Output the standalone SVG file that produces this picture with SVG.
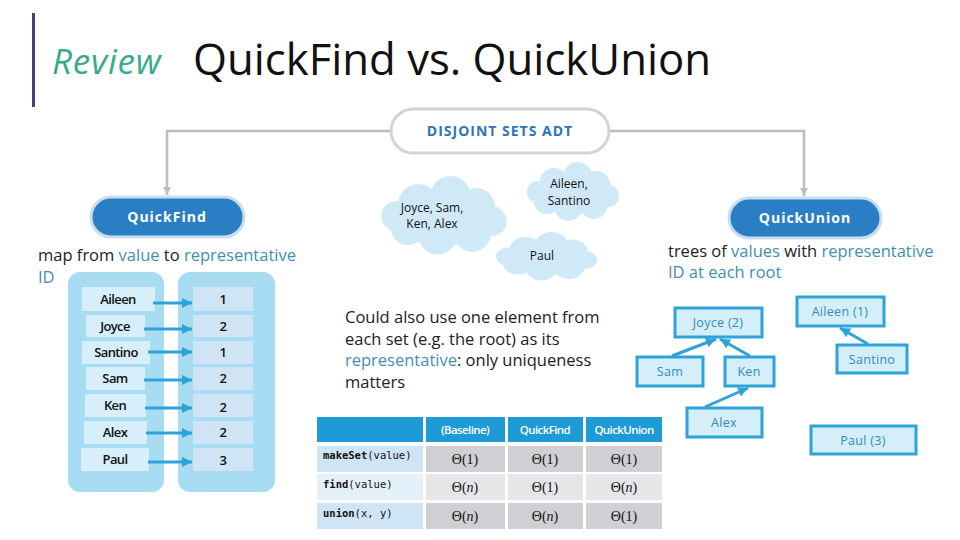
<svg xmlns="http://www.w3.org/2000/svg" xmlns:xlink="http://www.w3.org/1999/xlink" width="960" height="540" viewBox="0 0 960 540">
<style>
.sans{font-family:"Open Sans","Noto Sans","DejaVu Sans",sans-serif}
.body{font-family:"Open Sans","Noto Sans",sans-serif;font-size:16.5px;fill:#222}
.teal{fill:#3f8fae}
.pillTxt{font-family:"Open Sans","Noto Sans",sans-serif;font-weight:700;font-size:14px;letter-spacing:1px;text-anchor:middle}
.cloudTxt{font-family:"Open Sans","Noto Sans",sans-serif;font-size:12px;fill:#111;text-anchor:middle}
.col{fill:#a8dcf2}
.lcell{fill:#d6effa}
.rcell{fill:#cfe4f4}
.cellTxt{font-family:"Open Sans","Noto Sans",sans-serif;font-weight:600;font-size:13px;fill:#111;text-anchor:middle;letter-spacing:-0.6px}
.tarrow{stroke:#2ea3d9;stroke-width:3;fill:none}
.gline{stroke:#bdbdbd;stroke-width:2.5;fill:none}
.hdr{fill:#1e9ad6}
.hdrTxt{font-family:"Open Sans","Noto Sans",sans-serif;font-weight:600;font-size:11.5px;fill:#fff;text-anchor:middle;letter-spacing:-0.6px}
.mono{font-family:"DejaVu Sans Mono","Liberation Mono",monospace;font-size:10.5px;fill:#111}
.theta{font-family:"Liberation Serif","DejaVu Serif",serif;font-size:14px;fill:#111;text-anchor:middle}
.tnode{fill:#d4eefa;stroke:#2ea3d9;stroke-width:3}
.tnodeTxt{font-family:"Open Sans","Noto Sans",sans-serif;font-size:12.5px;fill:#2e8fba;text-anchor:middle;letter-spacing:0.3px}
.cloud{fill:#cfe9f7}
</style>
<defs>
<marker id="garrow" markerUnits="userSpaceOnUse" markerWidth="10" markerHeight="10" refX="8" refY="5" orient="auto">
<path d="M0,1 L8,5 L0,9 z" fill="#bdbdbd"/>
</marker>
<marker id="barrow" markerUnits="userSpaceOnUse" markerWidth="12" markerHeight="12" refX="10" refY="6" orient="auto">
<path d="M0,1 L10,6 L0,11 z" fill="#2ea3d9"/>
</marker>
<g id="cloudShape">
<ellipse cx="50" cy="32" rx="42" ry="20"/>
<circle cx="30" cy="22" r="16"/>
<circle cx="55" cy="16" r="16"/>
<circle cx="75" cy="24" r="15"/>
<circle cx="22" cy="38" r="14"/>
<circle cx="45" cy="44" r="15"/>
<circle cx="72" cy="42" r="15"/>
<circle cx="88" cy="34" r="11"/>
<circle cx="12" cy="30" r="11"/>
</g>
</defs>

<rect width="960" height="540" fill="#fff"/>

<g id="title">
<rect x="32" y="13" width="3" height="94" fill="#4b3b73"/>
<text x="52" y="74" class="sans" font-size="35" font-style="italic" fill="#3aaa8c" letter-spacing="0.8">Review</text>
<text x="193" y="75" class="sans" font-size="43.7" fill="#111">QuickFind vs. QuickUnion</text>
</g>

<g id="adt">
<rect x="391" y="109" width="218" height="44" rx="22" fill="#fff" stroke="#d3d3d3" stroke-width="3"/>
<text x="500" y="136" class="pillTxt" fill="#2e75b6">DISJOINT SETS ADT</text>
</g>

<g id="quickfind">
<rect x="91" y="197" width="153" height="40" rx="20" fill="#2a7fc4" stroke="#c9ddef" stroke-width="3"/>
<text x="167" y="222" class="pillTxt" fill="#fff" font-size="14.5">QuickFind</text>
</g>

<g id="quickunion">
<rect x="729" y="198" width="152" height="40" rx="20" fill="#2a7fc4" stroke="#c9ddef" stroke-width="3"/>
<text x="805" y="223" class="pillTxt" fill="#fff" font-size="14.5">QuickUnion</text>
</g>

<g id="qf-desc">
<text x="38" y="261" class="body">map from <tspan class="teal">value</tspan> to <tspan class="teal">representative</tspan></text>
<text x="38" y="283" class="body teal">ID</text>
</g>

<g id="qf-map">
<rect class="col" x="68" y="272" width="96" height="220" rx="12"/>
<rect class="col" x="178" y="272" width="97" height="220" rx="12"/>
<rect class="lcell" x="82" y="287" width="73" height="24"/>
<rect class="lcell" x="86" y="315" width="59" height="22"/>
<rect class="lcell" x="82" y="341" width="68" height="23"/>
<rect class="lcell" x="86" y="367" width="59" height="23"/>
<rect class="lcell" x="85" y="394" width="61" height="23"/>
<rect class="lcell" x="84" y="421" width="63" height="23"/>
<rect class="lcell" x="81" y="448" width="68" height="23"/>
<rect class="rcell" x="193" y="287" width="60" height="24"/>
<rect class="rcell" x="193" y="315" width="60" height="22"/>
<rect class="rcell" x="193" y="341" width="60" height="23"/>
<rect class="rcell" x="193" y="367" width="60" height="23"/>
<rect class="rcell" x="193" y="394" width="60" height="23"/>
<rect class="rcell" x="193" y="421" width="60" height="23"/>
<rect class="rcell" x="193" y="448" width="60" height="23"/>
<text class="cellTxt" x="118" y="304">Aileen</text>
<text class="cellTxt" x="115" y="331">Joyce</text>
<text class="cellTxt" x="116" y="357">Santino</text>
<text class="cellTxt" x="115" y="383">Sam</text>
<text class="cellTxt" x="115" y="410">Ken</text>
<text class="cellTxt" x="115" y="437">Alex</text>
<text class="cellTxt" x="115" y="464">Paul</text>
<text class="cellTxt" x="223" y="304">1</text>
<text class="cellTxt" x="223" y="331">2</text>
<text class="cellTxt" x="223" y="357">1</text>
<text class="cellTxt" x="223" y="383">2</text>
<text class="cellTxt" x="223" y="412">2</text>
<text class="cellTxt" x="223" y="437">2</text>
<text class="cellTxt" x="223" y="465">3</text>
</g>

<g id="cloud-joyce">
<use xlink:href="#cloudShape" class="cloud" transform="translate(380,176) scale(1.28,1.33)"/>
<text class="cloudTxt" x="432" y="212">Joyce, Sam,</text>
<text class="cloudTxt" x="432" y="228">Ken, Alex</text>
</g>
<g id="cloud-aileen">
<use xlink:href="#cloudShape" class="cloud" transform="translate(526,162) scale(0.94,1.0)"/>
<text class="cloudTxt" x="569" y="188">Aileen,</text>
<text class="cloudTxt" x="569" y="205">Santino</text>
</g>
<g id="cloud-paul">
<use xlink:href="#cloudShape" class="cloud" transform="translate(495,232) scale(1.03,0.82)"/>
<text class="cloudTxt" x="542" y="260">Paul</text>
</g>

<g id="note">
<text x="345" y="323" class="body">Could also use one element from</text>
<text x="345" y="345" class="body">each set (e.g. the root) as its</text>
<text x="345" y="366" class="body"><tspan class="teal">representative</tspan>: only uniqueness</text>
<text x="345" y="388" class="body">matters</text>
</g>

<g id="cmp-table">
<rect class="hdr" x="317" y="417" width="106" height="25"/>
<rect class="hdr" x="426" y="417" width="79" height="25"/>
<rect class="hdr" x="508" y="417" width="75" height="25"/>
<rect class="hdr" x="586" y="417" width="76" height="25"/>
<text class="hdrTxt" x="465" y="434">(Baseline)</text>
<text class="hdrTxt" x="545" y="434">QuickFind</text>
<text class="hdrTxt" x="624" y="434">QuickUnion</text>
<rect x="317" y="446" width="106" height="26" fill="#cfe5f5"/>
<rect x="426" y="446" width="79" height="26" fill="#d0d0d4"/>
<rect x="508" y="446" width="75" height="26" fill="#d0d0d4"/>
<rect x="586" y="446" width="76" height="26" fill="#d0d0d4"/>
<rect x="317" y="474" width="106" height="26" fill="#e5f1fa"/>
<rect x="426" y="474" width="79" height="26" fill="#e6e6e9"/>
<rect x="508" y="474" width="75" height="26" fill="#e6e6e9"/>
<rect x="586" y="474" width="76" height="26" fill="#e6e6e9"/>
<rect x="317" y="503" width="106" height="26" fill="#cfe5f5"/>
<rect x="426" y="503" width="79" height="26" fill="#d0d0d4"/>
<rect x="508" y="503" width="75" height="26" fill="#d0d0d4"/>
<rect x="586" y="503" width="76" height="26" fill="#d0d0d4"/>
<text class="mono" x="323" y="459"><tspan font-weight="bold">makeSet</tspan>(value)</text>
<text class="mono" x="323" y="488"><tspan font-weight="bold">find</tspan>(value)</text>
<text class="mono" x="323" y="517"><tspan font-weight="bold">union</tspan>(x, y)</text>
<text class="theta" x="465" y="464">Θ(1)</text>
<text class="theta" x="545" y="464">Θ(1)</text>
<text class="theta" x="624" y="464">Θ(1)</text>
<text class="theta" x="465" y="492">Θ(<tspan font-style="italic">n</tspan>)</text>
<text class="theta" x="545" y="492">Θ(1)</text>
<text class="theta" x="624" y="492">Θ(<tspan font-style="italic">n</tspan>)</text>
<text class="theta" x="465" y="521">Θ(<tspan font-style="italic">n</tspan>)</text>
<text class="theta" x="545" y="521">Θ(<tspan font-style="italic">n</tspan>)</text>
<text class="theta" x="624" y="521">Θ(1)</text>
</g>

<g id="qu-desc">
<text x="668" y="257" class="body">trees of <tspan class="teal">values</tspan> with <tspan class="teal">representative</tspan></text>
<text x="668" y="278" class="body teal">ID at each root</text>
</g>

<g id="node-joyce"><rect class="tnode" x="675" y="308" width="87" height="29"/><text class="tnodeTxt" x="718" y="327">Joyce (2)</text></g>
<g id="node-sam"><rect class="tnode" x="637" y="357" width="66" height="29"/><text class="tnodeTxt" x="670" y="376">Sam</text></g>
<g id="node-ken"><rect class="tnode" x="725" y="357" width="49" height="29"/><text class="tnodeTxt" x="749" y="376">Ken</text></g>
<g id="node-alex"><rect class="tnode" x="687" y="408" width="75" height="29"/><text class="tnodeTxt" x="724" y="427">Alex</text></g>
<g id="node-aileen"><rect class="tnode" x="797" y="297" width="87" height="29"/><text class="tnodeTxt" x="840" y="316">Aileen (1)</text></g>
<g id="node-santino"><rect class="tnode" x="837" y="345" width="70" height="28"/><text class="tnodeTxt" x="872" y="364">Santino</text></g>
<g id="node-paul"><rect class="tnode" x="811" y="426" width="105" height="28"/><text class="tnodeTxt" x="863" y="445">Paul (3)</text></g>

<g id="connectors">
<polyline class="gline" points="390,131 167,131 167,195" marker-end="url(#garrow)"/>
<polyline class="gline" points="610,131 804,131 804,196" marker-end="url(#garrow)"/>
<line class="tarrow" x1="153" y1="303" x2="192" y2="303" marker-end="url(#barrow)"/>
<line class="tarrow" x1="144" y1="329" x2="192" y2="329" marker-end="url(#barrow)"/>
<line class="tarrow" x1="148" y1="352" x2="192" y2="352" marker-end="url(#barrow)"/>
<line class="tarrow" x1="144" y1="380" x2="192" y2="380" marker-end="url(#barrow)"/>
<line class="tarrow" x1="145" y1="408" x2="192" y2="408" marker-end="url(#barrow)"/>
<line class="tarrow" x1="146" y1="433" x2="192" y2="433" marker-end="url(#barrow)"/>
<line class="tarrow" x1="148" y1="462" x2="192" y2="462" marker-end="url(#barrow)"/>
<line class="tarrow" x1="672" y1="356" x2="716" y2="339" marker-end="url(#barrow)"/>
<line class="tarrow" x1="750" y1="356" x2="720" y2="339" marker-end="url(#barrow)"/>
<line class="tarrow" x1="705" y1="407" x2="748" y2="388" marker-end="url(#barrow)"/>
<line class="tarrow" x1="868" y1="344" x2="840" y2="328" marker-end="url(#barrow)"/>
</g>
</svg>
